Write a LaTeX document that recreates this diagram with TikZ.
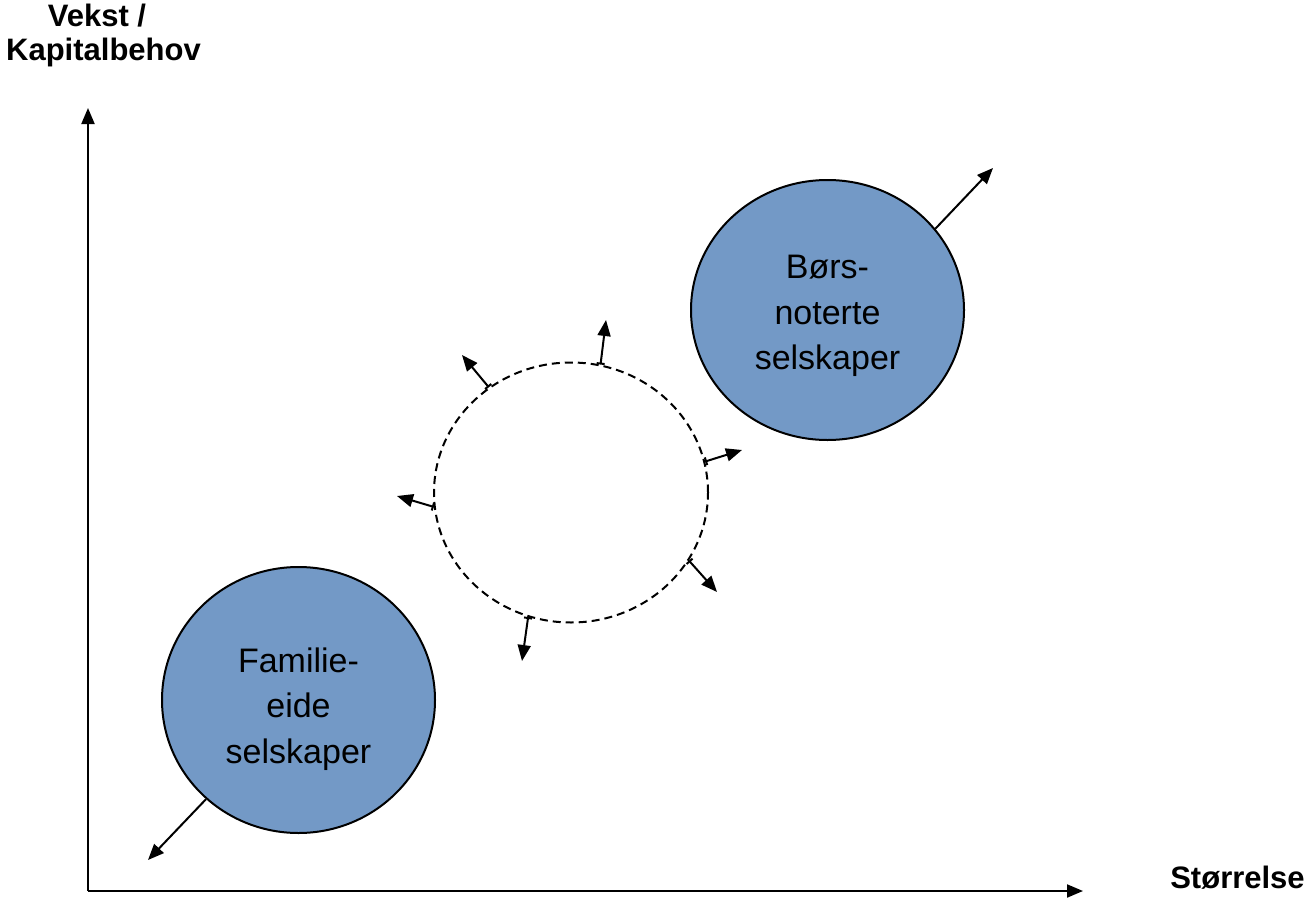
\documentclass[tikz,border=0pt]{standalone}
\usepackage{fontspec}
\setmainfont{Liberation Sans}
\usetikzlibrary{arrows.meta,shapes.geometric}
\definecolor{blob}{HTML}{7399C6}
\begin{document}
\begin{tikzpicture}[x=1pt,y=-1pt,
  axis/.style={line width=2pt,-{Triangle[length=16pt,width=13pt]}},
  arr/.style={line width=2pt,-{Triangle[length=16pt,width=13pt]}},
  tickarr/.style={line width=2pt,{Bar[width=8pt,line width=2pt]}-{Triangle[length=16pt,width=13pt]}},
  blobshape/.style={ellipse,draw,line width=2pt,fill=blob,inner sep=0pt},
  ringshape/.style={ellipse,draw,line width=2pt,dash pattern=on 8pt off 5pt,inner sep=0pt},
  blobtext/.style={align=center,font=\fontsize{34}{45.5}\selectfont,inner sep=0pt},
  axlabel/.style={font=\fontsize{31}{37}\selectfont\bfseries,inner sep=0pt,anchor=base}]
\useasboundingbox (0,0) rectangle (1307,899);
% axes
\coordinate (o) at (88,891);
\coordinate (ytop) at (88,108);
\coordinate (xend) at (1083,891);
\draw[axis] (o) -- (ytop);
\draw[axis] (o) -- (xend);
\node[axlabel] (yl1) at (97,27) {Vekst /};
\node[axlabel] (yl2) at (103.5,60) {Kapitalbehov};
\node[axlabel] (xl) at (1237.5,888) {Størrelse};
% ellipses
\node[blobshape,minimum width=273pt,minimum height=266pt] (fam) at (298.5,700) {};
\node[blobtext] (famt) at (298.5,709) {Familie-\\eide\\selskaper};
\node[blobshape,minimum width=273pt,minimum height=260pt] (bors) at (827.5,310) {};
\node[blobtext] (borst) at (827.5,316) {Børs-\\noterte\\selskaper};
\node[ringshape,minimum width=274pt,minimum height=260pt] (ring) at (571,492.5) {};
% outward arrows
\coordinate (e1) at (606,320);
\coordinate (e2) at (462,355);
\coordinate (e3) at (742,450);
\coordinate (e4) at (397,496);
\coordinate (e5) at (717,592);
\coordinate (e6) at (522,661);
\draw[tickarr] (ring.77.6) -- (e1);
\draw[tickarr] (ring.128.8) -- (e2);
\draw[tickarr] (ring.13.9) -- (e3);
\draw[tickarr] (ring.186.1) -- (e4);
\draw[tickarr] (ring.-30.5) -- (e5);
\draw[tickarr] (ring.251.9) -- (e6);
\coordinate (bend) at (993,168);
\coordinate (fend) at (148,860);
\draw[arr] (bors.37.9) -- (bend);
\draw[arr] (fam.227.8) -- (fend);
\end{tikzpicture}
\end{document}
